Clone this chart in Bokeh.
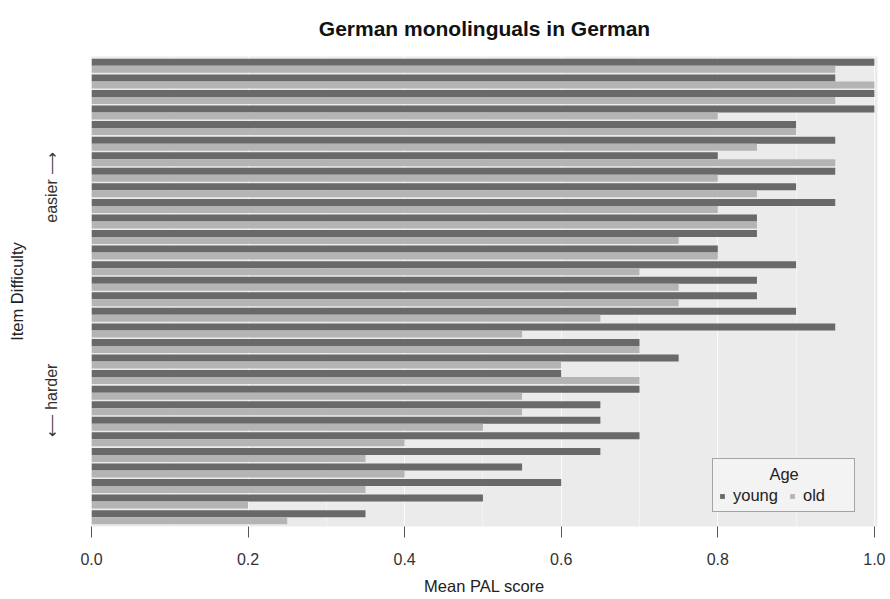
from bokeh.plotting import figure
from bokeh.models import (ColumnDataSource, Legend, LegendItem, FixedTicker,
                          Range1d, NumeralTickFormatter)
from bokeh.transform import dodge
from bokeh.embed import file_html
from bokeh.resources import INLINE

# Mean PAL score per item, ordered from easiest (top) to hardest (bottom)
young = [1.0, 0.95, 1.0, 1.0, 0.9, 0.95, 0.8, 0.95, 0.9, 0.95,
         0.85, 0.85, 0.8, 0.9, 0.85, 0.85, 0.9, 0.95, 0.7, 0.75,
         0.6, 0.7, 0.65, 0.65, 0.7, 0.65, 0.55, 0.6, 0.5, 0.35]
old = [0.95, 1.0, 0.95, 0.8, 0.9, 0.85, 0.95, 0.8, 0.85, 0.8,
       0.85, 0.75, 0.8, 0.7, 0.75, 0.75, 0.65, 0.55, 0.7, 0.6,
       0.7, 0.55, 0.55, 0.5, 0.4, 0.35, 0.4, 0.35, 0.2, 0.25]
rank = list(range(len(young), 0, -1))

x_ticks = [0.0, 0.2, 0.4, 0.6, 0.8, 1.0]
difficulty_ticks = {22.2: "easier \u27f6", 8.5: "\u27f5 harder"}

FONT = "Liberation Sans"
DARK = "#696969"
LIGHT = "#b4b4b4"

src = ColumnDataSource(dict(rank=rank, young=young, old=old))

p = figure(width=890, height=599, output_backend="svg", toolbar_location=None,
           x_range=Range1d(0, 1.004), y_range=Range1d(0.4, len(young) + 0.6),
           min_border_left=91, min_border_right=13, min_border_top=56,
           min_border_bottom=73, background_fill_color="#ebebeb",
           border_fill_color="white", outline_line_color=None)

r_young = p.hbar(y=dodge("rank", 0.225), left=0, right="young", height=0.45,
                 source=src, fill_color=DARK, line_color=None)
r_old = p.hbar(y=dodge("rank", -0.225), left=0, right="old", height=0.45,
               source=src, fill_color=LIGHT, line_color=None)

# title
p.title.text = "German monolinguals in German"
p.title.align = "center"
p.title.vertical_align = "top"
p.title.text_font = FONT
p.title.text_font_size = "21px"
p.title.text_font_style = "bold"
p.title.text_color = "#111111"
p.title.standoff = 30

# x axis
xa = p.xaxis[0]
xa.ticker = FixedTicker(ticks=x_ticks, minor_ticks=[0.1, 0.3, 0.5, 0.7, 0.9])
xa.formatter = NumeralTickFormatter(format="0.0")
xa.axis_line_color = None
xa.major_tick_line_color = "#555555"
xa.major_tick_in = 0
xa.major_tick_out = 11
xa.minor_tick_line_color = None
xa.major_label_standoff = 15
xa.major_label_text_font = FONT
xa.major_label_text_font_size = "16px"
xa.major_label_text_color = "#333333"
xa.axis_label = "Mean PAL score"
xa.axis_label_text_font = FONT
xa.axis_label_text_font_size = "16.5px"
xa.axis_label_text_font_style = "normal"
xa.axis_label_text_color = "#222222"
xa.axis_label_standoff = 9

# y axis
ya = p.yaxis[0]
ya.ticker = FixedTicker(ticks=list(difficulty_ticks.keys()))
ya.major_label_overrides = difficulty_ticks
ya.major_label_orientation = "vertical"
ya.axis_line_color = None
ya.major_tick_line_color = None
ya.minor_tick_line_color = None
ya.major_tick_out = 0
ya.major_tick_in = 0
ya.major_label_standoff = 31
ya.major_label_text_font = FONT
ya.major_label_text_font_size = "16px"
ya.major_label_text_color = "#333333"
ya.axis_label = "Item Difficulty"
ya.axis_label_text_font = FONT
ya.axis_label_text_font_size = "16.5px"
ya.axis_label_text_font_style = "normal"
ya.axis_label_text_color = "#222222"
ya.axis_label_standoff = 15

# grid
p.ygrid.grid_line_color = None
p.xgrid.grid_line_color = "white"
p.xgrid.grid_line_width = 1.0
p.xgrid.grid_line_alpha = 0.8
p.xgrid.minor_grid_line_color = "white"
p.xgrid.minor_grid_line_width = 0.6
p.xgrid.minor_grid_line_alpha = 0.8

# legend; non-breaking spaces centre the "Age" heading over the entries
legend = Legend(items=[LegendItem(label="young", renderers=[r_young]),
                       LegendItem(label="old", renderers=[r_old])],
                title="\u00a0" * 11 + "Age", orientation="horizontal",
                location=(621, 14))
legend.title_text_font = FONT
legend.title_text_font_size = "16.5px"
legend.title_text_font_style = "normal"
legend.title_text_color = "#222222"
legend.title_standoff = 2
legend.label_text_font = FONT
legend.label_text_font_size = "16.5px"
legend.label_text_color = "#222222"
legend.label_width = 45
legend.glyph_width = 6
legend.glyph_height = 6
legend.label_standoff = 8
legend.spacing = 11
legend.padding = 6
legend.margin = 0
legend.border_line_color = "#555555"
legend.border_line_width = 1
legend.background_fill_color = "#f3f3f3"
legend.background_fill_alpha = 1
p.add_layout(legend)

open("out.html", "w").write(file_html(p, INLINE))
